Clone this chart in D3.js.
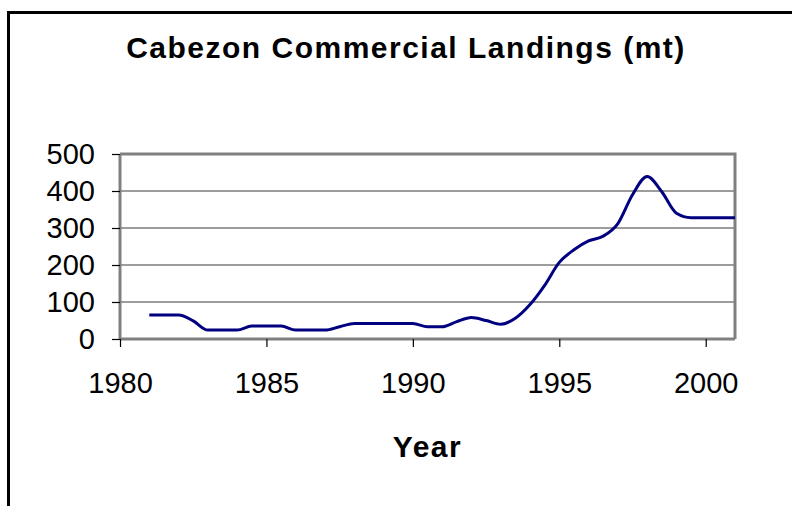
<!DOCTYPE html>
<html>
<head>
<meta charset="utf-8">
<script src="https://cdn.jsdelivr.net/npm/d3@7"></script>
<style>
  body { margin: 0; background: #fff; }
  svg { display: block; font-family: "Liberation Sans", Arial, sans-serif; }
</style>
</head>
<body>
<script>
// chart data (half-year steps)
var years = [1981, 1981.5, 1982, 1982.5, 1983, 1983.5, 1984, 1984.5, 1985, 1985.5,
             1986, 1986.5, 1987, 1987.5, 1988, 1988.5, 1989, 1989.5, 1990, 1990.5,
             1991, 1991.5, 1992, 1992.5, 1993, 1993.5, 1994, 1994.5, 1995, 1995.5,
             1996, 1996.5, 1997, 1997.5, 1998, 1998.5, 1999, 1999.5, 2000, 2000.5, 2001];
var landings = [65, 65, 65, 49, 24, 24, 24, 35, 35, 35,
                24, 24, 24, 33, 42, 42, 42, 42, 42, 33,
                33, 47, 58, 50, 40, 56, 93, 145, 207, 241,
                265, 278, 312, 390, 439, 398, 340, 328, 328, 328, 328];
var xTicks = [1980, 1985, 1990, 1995, 2000];
var yTicks = [0, 100, 200, 300, 400, 500];

var W = 792, H = 506;
var margin = {top: 154, right: 57, bottom: 167, left: 120},
    width = W - margin.left - margin.right,
    height = H - margin.top - margin.bottom;

var svg = d3.select("body").append("svg")
    .attr("width", W)
    .attr("height", H);

// outer chart border (runs off the right and bottom edges)
svg.append("rect")
    .attr("x", 8.5).attr("y", 12.5)
    .attr("width", W + 20).attr("height", H + 20)
    .attr("fill", "none")
    .attr("stroke", "#000")
    .attr("stroke-width", 3);

// title
svg.append("text")
    .attr("x", 406)
    .attr("y", 58)
    .attr("text-anchor", "middle")
    .style("font-size", "30px")
    .style("font-weight", "bold")
    .style("letter-spacing", "1.5px")
    .text("Cabezon Commercial Landings (mt)");

var g = svg.append("g")
    .attr("transform", "translate(" + margin.left + "," + margin.top + ")");

var x = d3.scaleLinear().domain([1980, 2001]).range([0, width]);
var y = d3.scaleLinear().domain([0, 500]).range([height, 0]);

// gridlines
g.selectAll(".grid")
    .data(yTicks.filter(function(d) { return d > 0; }))
    .enter().append("line")
    .attr("class", "grid")
    .attr("x1", 0).attr("x2", width)
    .attr("y1", function(d) { return y(d); })
    .attr("y2", function(d) { return y(d); })
    .attr("stroke", "#3a3a3a")
    .attr("stroke-width", 1);

// plot frame top + right
g.append("path")
    .attr("d", "M0," + y(500) + "H" + width + "V" + height)
    .attr("fill", "none")
    .attr("stroke", "#808080")
    .attr("stroke-width", 3);

// y axis
var yAxis = g.append("g")
    .call(d3.axisLeft(y).tickValues(yTicks).tickSize(8).tickPadding(17).tickFormat(d3.format("d")));
// x axis
var xAxis = g.append("g")
    .attr("transform", "translate(0," + height + ")")
    .call(d3.axisBottom(x).tickValues(xTicks).tickSize(8).tickPadding(25).tickFormat(d3.format("d")));

[yAxis, xAxis].forEach(function(a) {
  a.select(".domain").attr("stroke", "#808080").attr("stroke-width", 3)
    .attr("d", a === yAxis ? "M0,0V" + height : "M0,0H" + width);
  a.selectAll(".tick line").attr("stroke", "#000").attr("stroke-width", 1.2);
  a.selectAll(".tick text")
    .attr("fill", "#000")
    .style("font-size", "29px")
    .style("font-family", "'Liberation Sans', Arial, sans-serif");
});

// the line
var line = d3.line()
    .x(function(d, i) { return x(years[i]); })
    .y(function(d) { return y(d); })
    .curve(d3.curveMonotoneX);

g.append("path")
    .datum(landings)
    .attr("fill", "none")
    .attr("stroke", "#000080")
    .attr("stroke-width", 3)
    .attr("stroke-linejoin", "round")
    .attr("d", line);

// x axis label
svg.append("text")
    .attr("x", margin.left + width / 2)
    .attr("y", 457)
    .attr("text-anchor", "middle")
    .style("font-size", "30px")
    .style("font-weight", "bold")
    .style("letter-spacing", "1.5px")
    .text("Year");
</script>
</body>
</html>
